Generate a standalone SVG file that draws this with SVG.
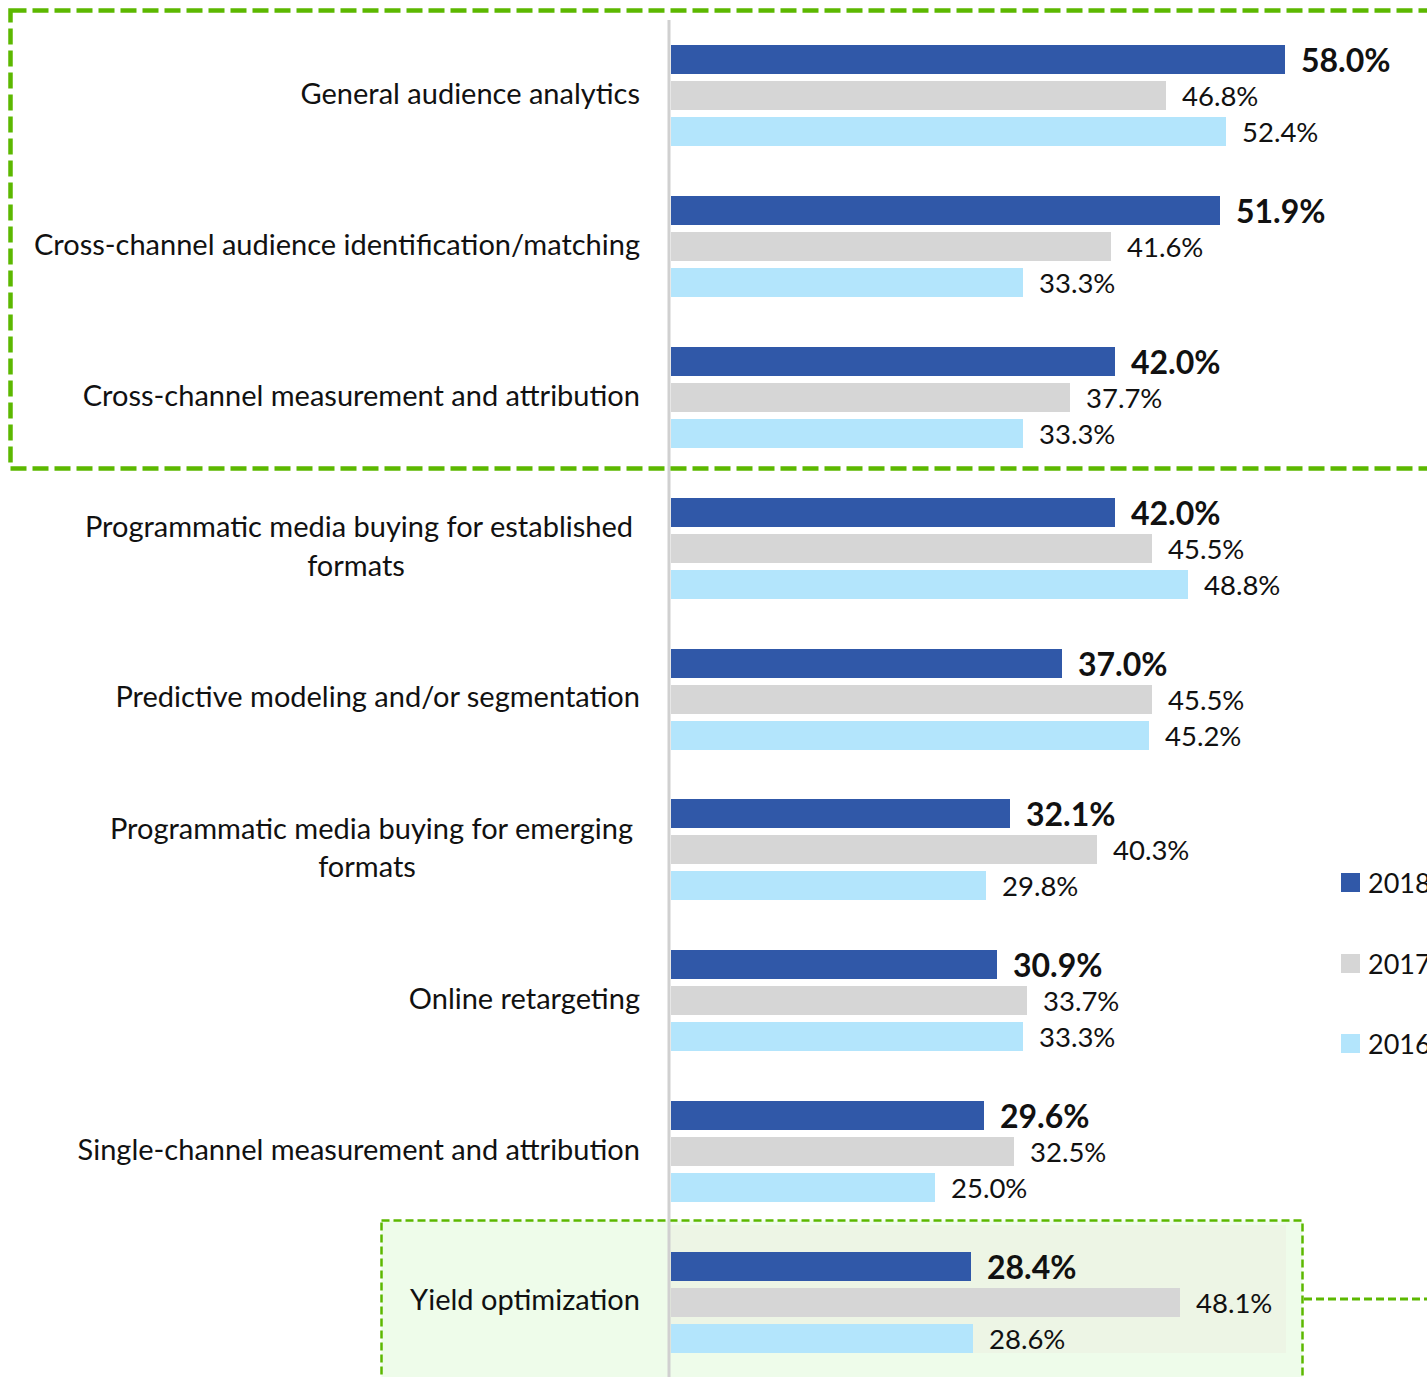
<svg xmlns="http://www.w3.org/2000/svg" width="1427" height="1377" viewBox="0 0 1427 1377">
<style>
.cat{font-family:Lato,"Open Sans","Noto Sans",sans-serif;font-size:29px;fill:#111;}
.v{font-family:Lato,"Open Sans","Noto Sans",sans-serif;font-size:27.5px;fill:#111;}
.vb{font-family:Lato,"Open Sans","Noto Sans",sans-serif;font-size:32px;font-weight:bold;fill:#111;}
.lg{font-family:Lato,"Open Sans","Noto Sans",sans-serif;font-size:27px;fill:#111;}
.b18{fill:#3058A8;}
.b17{fill:#D6D6D6;}
.b16{fill:#B3E5FC;}
.dash{fill:none;stroke:#5CB800;}
</style>
<rect width="1427" height="1377" fill="#FFFFFF"/>
<g id="yield-highlight">
<rect x="381.5" y="1220.5" width="921" height="200" fill="#EEFCEA" stroke="#5CB800" stroke-width="2.5" stroke-dasharray="8 4"/>
<rect x="670" y="1225" width="616" height="128" fill="#EDF5E5"/>
</g>
<g id="axis">
<line x1="669" y1="20" x2="669" y2="1377" stroke="#D0D0D0" stroke-width="3"/>
</g>
<g id="g0">
<text class="cat" x="640" y="104" text-anchor="end">General audience analytics</text>
<rect class="b18" x="671" y="45" width="614" height="29"/>
<rect class="b17" x="671" y="81" width="495" height="29"/>
<rect class="b16" x="671" y="117" width="555" height="29"/>
<text class="vb" x="1301" y="72">58.0%</text>
<text class="v" x="1182" y="106">46.8%</text>
<text class="v" x="1242" y="142">52.4%</text>
</g>
<g id="g1">
<text class="cat" x="640" y="255" text-anchor="end">Cross-channel audience identification/matching</text>
<rect class="b18" x="671" y="196" width="549" height="29"/>
<rect class="b17" x="671" y="232" width="440" height="29"/>
<rect class="b16" x="671" y="268" width="352" height="29"/>
<text class="vb" x="1236" y="223">51.9%</text>
<text class="v" x="1127" y="257">41.6%</text>
<text class="v" x="1039" y="293">33.3%</text>
</g>
<g id="g2">
<text class="cat" x="640" y="406" text-anchor="end">Cross-channel measurement and attribution</text>
<rect class="b18" x="671" y="347" width="444" height="29"/>
<rect class="b17" x="671" y="383" width="399" height="29"/>
<rect class="b16" x="671" y="419" width="352" height="29"/>
<text class="vb" x="1131" y="374">42.0%</text>
<text class="v" x="1086" y="408">37.7%</text>
<text class="v" x="1039" y="444">33.3%</text>
</g>
<g id="g3">
<text class="cat" x="633" y="537" text-anchor="end">Programmatic media buying for established</text>
<text class="cat" x="356" y="576" text-anchor="middle">formats</text>
<rect class="b18" x="671" y="498" width="444" height="29"/>
<rect class="b17" x="671" y="534" width="481" height="29"/>
<rect class="b16" x="671" y="570" width="517" height="29"/>
<text class="vb" x="1131" y="525">42.0%</text>
<text class="v" x="1168" y="559">45.5%</text>
<text class="v" x="1204" y="595">48.8%</text>
</g>
<g id="g4">
<text class="cat" x="640" y="707" text-anchor="end">Predictive modeling and/or segmentation</text>
<rect class="b18" x="671" y="649" width="391" height="29"/>
<rect class="b17" x="671" y="685" width="481" height="29"/>
<rect class="b16" x="671" y="721" width="478" height="29"/>
<text class="vb" x="1078" y="676">37.0%</text>
<text class="v" x="1168" y="710">45.5%</text>
<text class="v" x="1165" y="746">45.2%</text>
</g>
<g id="g5">
<text class="cat" x="633" y="839" text-anchor="end">Programmatic media buying for emerging</text>
<text class="cat" x="367" y="877" text-anchor="middle">formats</text>
<rect class="b18" x="671" y="799" width="339" height="29"/>
<rect class="b17" x="671" y="835" width="426" height="29"/>
<rect class="b16" x="671" y="871" width="315" height="29"/>
<text class="vb" x="1026" y="826">32.1%</text>
<text class="v" x="1113" y="860">40.3%</text>
<text class="v" x="1002" y="896">29.8%</text>
</g>
<g id="g6">
<text class="cat" x="640" y="1009" text-anchor="end">Online retargeting</text>
<rect class="b18" x="671" y="950" width="326" height="29"/>
<rect class="b17" x="671" y="986" width="356" height="29"/>
<rect class="b16" x="671" y="1022" width="352" height="29"/>
<text class="vb" x="1013" y="977">30.9%</text>
<text class="v" x="1043" y="1011">33.7%</text>
<text class="v" x="1039" y="1047">33.3%</text>
</g>
<g id="g7">
<text class="cat" x="640" y="1160" text-anchor="end">Single-channel measurement and attribution</text>
<rect class="b18" x="671" y="1101" width="313" height="29"/>
<rect class="b17" x="671" y="1137" width="343" height="29"/>
<rect class="b16" x="671" y="1173" width="264" height="29"/>
<text class="vb" x="1000" y="1128">29.6%</text>
<text class="v" x="1030" y="1162">32.5%</text>
<text class="v" x="951" y="1198">25.0%</text>
</g>
<g id="g8">
<text class="cat" x="640" y="1310" text-anchor="end">Yield optimization</text>
<rect class="b18" x="671" y="1252" width="300" height="29"/>
<rect class="b17" x="671" y="1288" width="509" height="29"/>
<rect class="b16" x="671" y="1324" width="302" height="29"/>
<text class="vb" x="987" y="1279">28.4%</text>
<text class="v" x="1196" y="1313">48.1%</text>
<text class="v" x="989" y="1349">28.6%</text>
</g>
<g id="legend">
<rect class="b18" x="1341" y="873" width="19" height="19"/>
<text class="lg" x="1368" y="893">2018</text>
<rect class="b17" x="1341" y="954" width="19" height="19"/>
<text class="lg" x="1368" y="974">2017</text>
<rect class="b16" x="1341" y="1034" width="19" height="19"/>
<text class="lg" x="1368" y="1054">2016</text>
</g>
<g id="connectors">
<rect class="dash" x="10.5" y="10.5" width="1440" height="458" stroke-width="4.5" stroke-dasharray="16 6"/>
<line class="dash" x1="1304" y1="1299" x2="1427" y2="1299" stroke-width="3" stroke-dasharray="8 4"/>
</g>
</svg>
